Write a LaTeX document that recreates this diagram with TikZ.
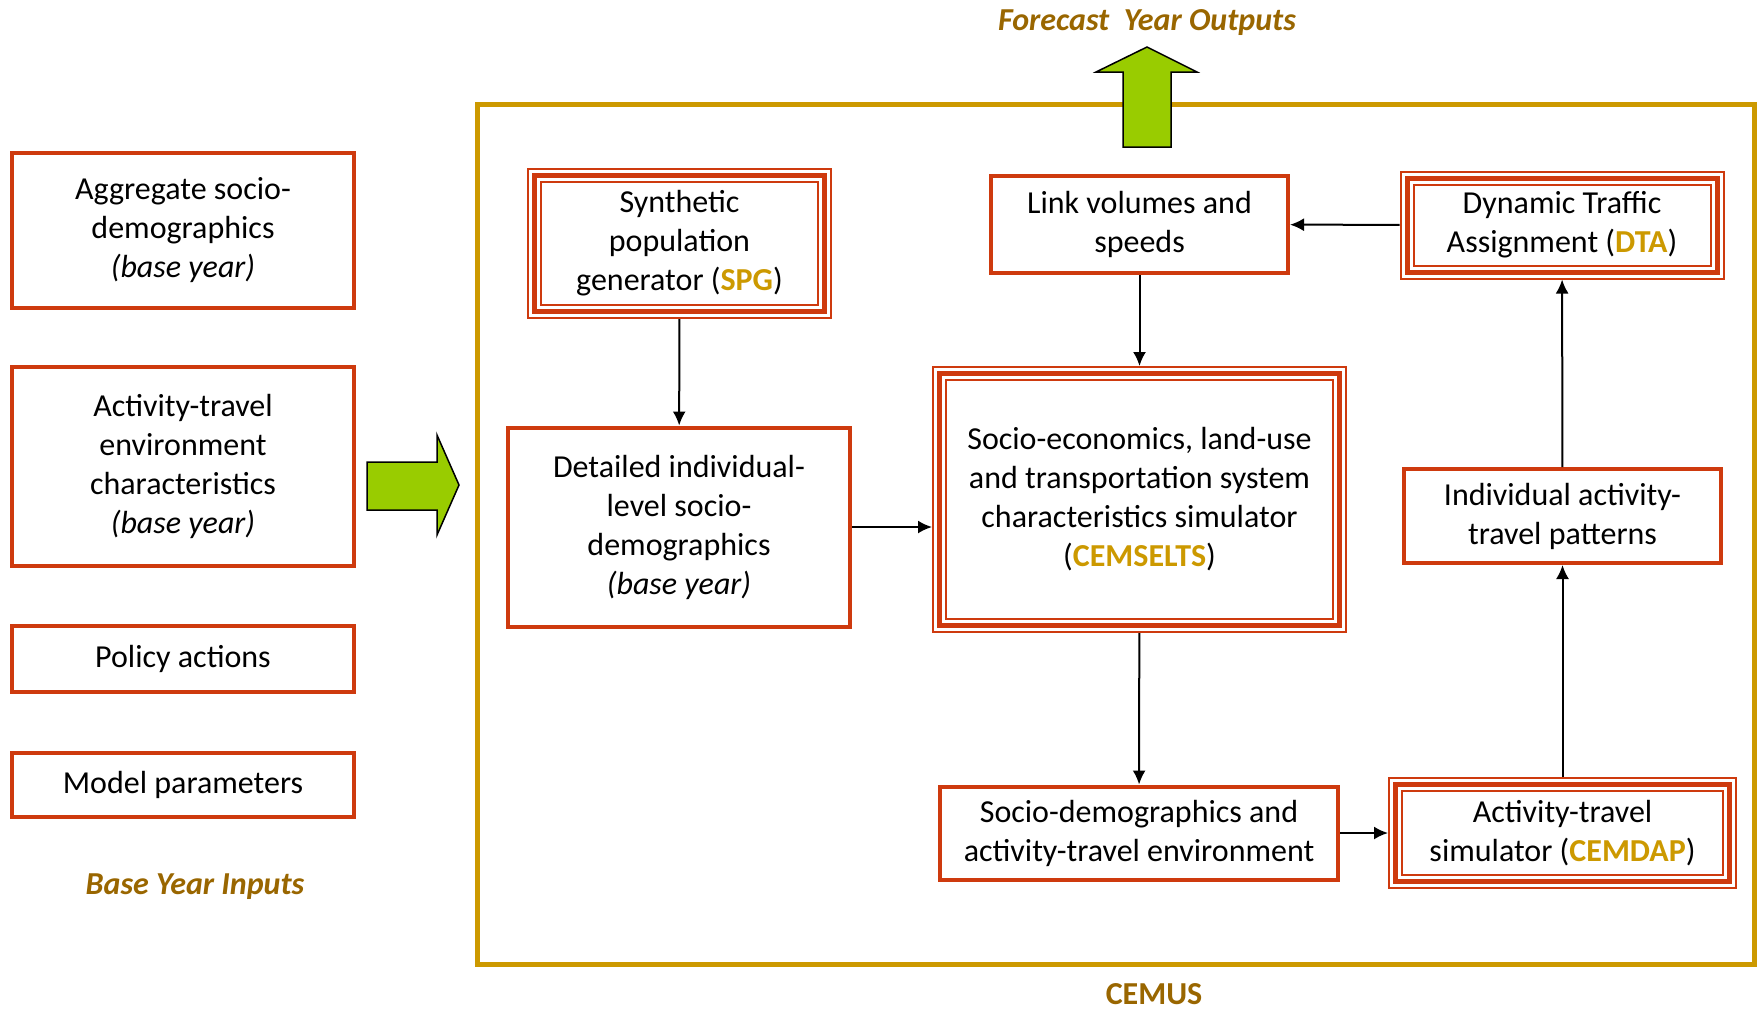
\documentclass[tikz,border=0pt]{standalone}
\usepackage{fontspec}
\setmainfont{Carlito}
\usepackage{tikz}
\usetikzlibrary{arrows,arrows.meta}
\usetikzlibrary{positioning}
\definecolor{boxred}{RGB}{206,58,14}
\definecolor{acrgold}{RGB}{204,153,0}
\definecolor{titlebrown}{RGB}{153,102,0}
\definecolor{arrowgreen}{RGB}{153,204,0}
\newcommand{\acr}[1]{\textcolor{acrgold}{\textbf{#1}}}
\tikzstyle{every node}+=[inner sep=0pt]
\tikzstyle{block} = [rectangle, draw=boxred, line width=2pt, align=center, font=\fontsize{16}{19.5}\selectfont]
\tikzstyle{model} = [block, line width=2.5pt, outer sep=3.75pt, preaction={draw=boxred, double=white, line width=1pt, double distance=5.5pt}]
\tikzstyle{line} = [draw, line width=1pt, -{Latex[length=7pt, width=6.5pt]}]
\tikzstyle{title} = [text=titlebrown, font=\fontsize{16}{19.5}\selectfont\bfseries\itshape]
\tikzstyle{bigarrow} = [fill=arrowgreen, draw=black, line width=0.75pt, line join=miter]

\begin{document}
\begin{tikzpicture}[x=0.5pt, y=-0.5pt]
            \useasboundingbox (0,0) rectangle (1760,1008);
            % Model frame
            \node [draw=acrgold, line width=2.5pt, minimum width=638.5pt, minimum height=430pt] (cemus) at (1115.5,534) {};
            \node [title, font=\fontsize{16}{19.5}\selectfont\bfseries] (cemuslabel) at (1154,994) {CEMUS};
            \node [title] (outputs) at (1147,23) {Forecast~ Year Outputs};
            % Base year inputs
            \node [block, minimum width=171pt, minimum height=77.5pt] (agg) at (183,230) {Aggregate socio-\\demographics\\\textit{(base year)}};
            \node [block, minimum width=171pt, minimum height=99.5pt] (env) at (183,466.5) {Activity-travel\\environment\\characteristics\\\textit{(base year)}};
            \node [block, minimum width=171pt, minimum height=33pt] (pol) at (183,659) {Policy actions};
            \node [block, minimum width=171pt, minimum height=32pt] (par) at (183,785) {Model parameters};
            \node [title] (inputs) at (195,887) {Base Year Inputs};
            % Place nodes
            \node [model, minimum width=145pt, minimum height=68pt] (spg) at (679.5,243.5) {Synthetic\\population\\generator (\acr{SPG})};
            \node [block, minimum width=171pt, minimum height=99.5pt] (detail) at (679,527) {Detailed individual-\\level socio-\\demographics\\\textit{(base year)}};
            \node [block, minimum width=148.5pt, minimum height=48.5pt] (link) at (1139.5,224.5) {Link volumes and\\speeds};
            \node [model, minimum width=155pt, minimum height=47pt] (dta) at (1562,225) {Dynamic Traffic\\Assignment (\acr{DTA})};
            \node [model, minimum width=200pt, minimum height=126pt] (cemselts) at (1139.5,499.5) {Socio-economics, land-use\\and transportation system\\characteristics simulator\\(\acr{CEMSELTS})};
            \node [block, minimum width=158.5pt, minimum height=47pt] (indiv) at (1562.5,516) {Individual activity-\\travel patterns};
            \node [block, minimum width=199pt, minimum height=46.5pt] (socio) at (1139,833) {Socio-demographics and\\activity-travel environment};
            \node [model, minimum width=167pt, minimum height=48.5pt] (cemdap) at (1562.5,833) {Activity-travel\\simulator (\acr{CEMDAP})};
            % Draw edges
            \path [line] (spg) -- (detail);
            \path [line] (detail.east) -- (detail.east -| cemselts.west);
            \path [line] (link) -- (cemselts);
            \path [line] (dta) -- (link);
            \path [line] (cemselts) -- (socio);
            \path [line] (socio) -- (cemdap);
            \path [line] (cemdap) -- (indiv);
            \path [line] (indiv) -- (dta);
            % Big arrows
            \draw [bigarrow] (367,462) -- (437,462) -- (437,435) -- (459,485) -- (437,535) -- (437,510) -- (367,510) -- cycle;
            \draw [bigarrow] (1123,147) -- (1123,72) -- (1096,72) -- (1147,47) -- (1197,72) -- (1171,72) -- (1171,147) -- cycle;
          \end{tikzpicture}
\end{document}
